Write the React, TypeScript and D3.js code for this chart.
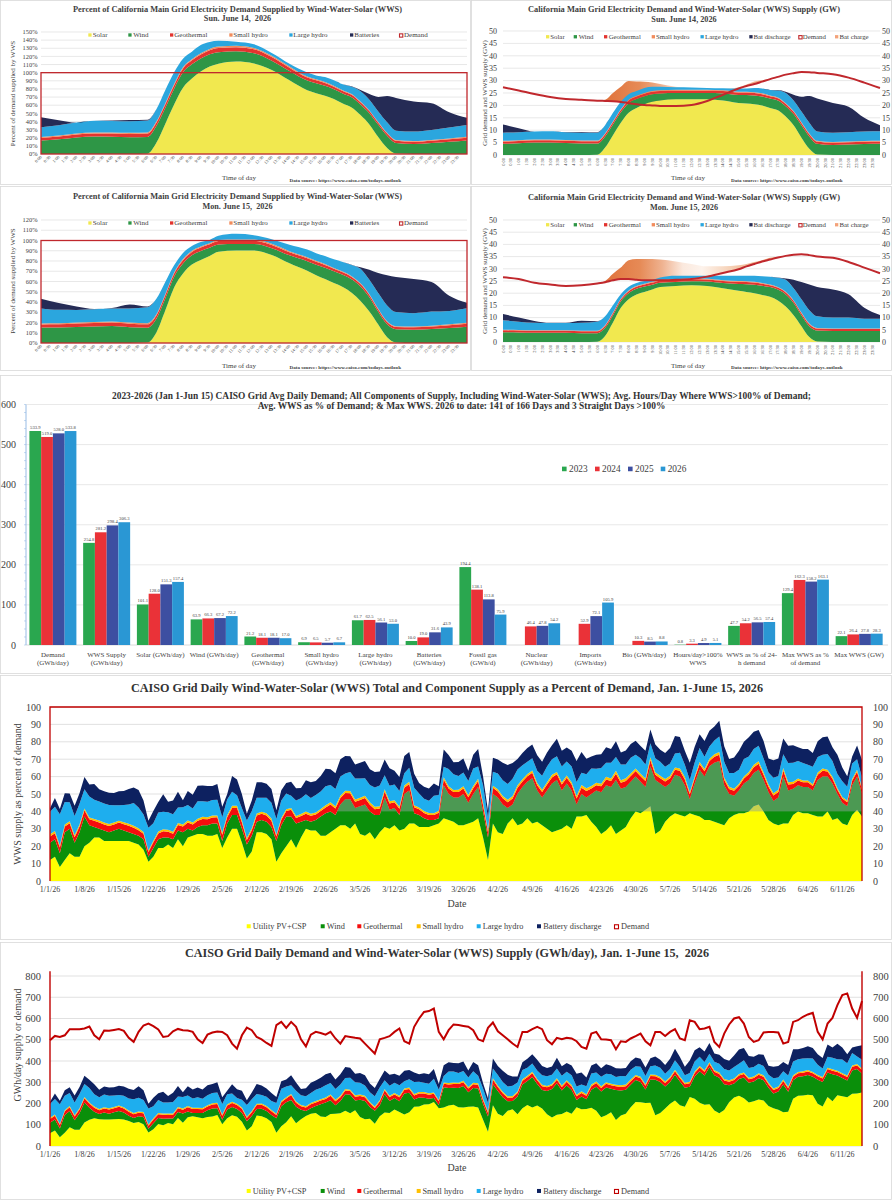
import React from 'react';
import * as d3 from 'd3';

const SERIF = '"Liberation Serif", "Times New Roman", Times, serif';
const INK = '#404040';
const GRID = '#d9d9d9';

// ---- CAISO today's outlook, read at these clock hours (GW) ----
const hours = [0, 1, 2, 3, 4, 5, 6, 6.5, 7, 7.5, 8, 8.5, 9, 9.5, 10, 11, 12, 13, 14, 15, 15.5, 16, 16.5, 17, 17.5, 18, 18.5, 19, 19.5, 20, 21, 22, 23, 24];

const jun14Demand = [27.3, 26.0, 24.6, 23.4, 22.6, 22.3, 21.9, 21.8, 21.7, 21.4, 20.9, 20.5, 20.2, 20.0, 19.8, 19.8, 20.2, 21.8, 24.3, 26.8, 27.8, 28.6, 29.6, 30.6, 31.5, 32.4, 33.0, 33.5, 33.4, 33.1, 32.6, 31.2, 29.2, 27.0];
const jun14Solar = [0, 0, 0, 0, 0, 0, 0.1, 3, 8, 13, 17, 19, 20.5, 21.5, 22, 22.5, 22.5, 22.5, 22, 21, 20.8, 20.5, 20, 19, 18, 15.5, 12, 7, 2.5, 0.2, 0, 0, 0, 0];
const jun14Wind = [4.5, 4.7, 5, 5, 4.8, 4.6, 4.5, 4.5, 4.3, 4.2, 4, 3.6, 3.2, 3, 2.8, 2.5, 2.5, 2.5, 2.8, 3.2, 3.4, 3.5, 3.6, 3.8, 4, 4.2, 4.5, 5, 5, 4.3, 4, 4.2, 4.4, 4.5];
const jun14Geo = [0.9, 0.9, 0.9, 0.9, 0.9, 0.9, 0.9, 0.9, 0.9, 0.9, 1.0, 1.0, 1.0, 1.0, 1.0, 1.0, 1.0, 1.0, 1.0, 1.0, 1.0, 1.0, 0.9, 0.9, 0.9, 0.9, 0.9, 0.9, 0.9, 0.9, 0.9, 0.9, 0.9, 0.9];
const jun14SmallHydro = [0.3, 0.3, 0.3, 0.3, 0.3, 0.3, 0.3, 0.3, 0.3, 0.3, 0.3, 0.3, 0.35, 0.35, 0.35, 0.35, 0.35, 0.35, 0.35, 0.35, 0.35, 0.35, 0.35, 0.3, 0.3, 0.3, 0.3, 0.3, 0.3, 0.3, 0.3, 0.3, 0.3, 0.3];
const jun14LargeHydro = [3.3, 3.3, 3.3, 3.4, 3.2, 3.2, 3.2, 3.3, 3.5, 3.1, 2.2, 1.9, 2.0, 1.7, 1.4, 1.0, 0.9, 0.7, 0.8, 1.3, 1.3, 1.7, 2.0, 2.2, 2.8, 4.1, 4.3, 4.3, 4.3, 3.8, 3.8, 3.8, 3.9, 3.9];
const jun14Battery = [3.3, 1.6, 0, 0, 0.1, 0.3, 0.2, 0, 0, 0, 0, 0, 0, 0, 0, 0, 0, 0, 0, 0, 0, 0, 0, 0, 0.2, 0.5, 2.3, 6, 10.8, 13.3, 12, 10.3, 5.5, 2.4];
const jun14Charge = [0, 0, 0, 0, 0, 0, 0, 0.5, 3.3, 6.1, 8.9, 9.1, 9.3, 9.2, 8.8, 7.7, 6.6, 4.7, 2.3, 0.5, 0.6, 1.0, 0.5, 0, 0, 0, 0, 0, 0, 0, 0, 0, 0, 0];

const jun15Demand = [26.5, 25.8, 24.3, 23.6, 23.0, 23.3, 24.0, 24.5, 25.3, 25.8, 25.8, 25.5, 25.3, 25.3, 25.3, 25.5, 25.8, 26.8, 28.3, 29.8, 31.0, 32.0, 33.0, 33.8, 34.6, 35.3, 35.8, 36.0, 35.6, 35.0, 34.5, 32.8, 30.5, 28.2];
const jun15Solar = [0, 0, 0, 0, 0, 0, 0.1, 2.5, 8, 14, 17.5, 19.5, 20.5, 21.5, 22.5, 23, 23.3, 23, 22, 21, 20.5, 20, 19.3, 18.5, 17, 14.5, 11, 6.5, 2, 0.2, 0, 0, 0, 0];
const jun15Wind = [4, 3.9, 3.8, 3.8, 3.8, 3.6, 3.5, 3.3, 3, 2.7, 2.5, 2.3, 2.2, 2.0, 1.8, 1.6, 1.6, 1.8, 2.2, 2.8, 3.2, 3.5, 3.8, 4, 4.5, 5, 5, 4.5, 4.5, 4.5, 4.5, 4.5, 4.5, 4.5];
const jun15Geo = [0.8, 0.8, 0.8, 0.8, 0.8, 0.8, 0.8, 0.8, 0.8, 0.8, 0.85, 0.85, 0.85, 0.85, 0.85, 0.85, 0.85, 0.85, 0.85, 0.85, 0.85, 0.85, 0.8, 0.8, 0.8, 0.8, 0.8, 0.8, 0.8, 0.8, 0.8, 0.8, 0.8, 0.8];
const jun15SmallHydro = [0.25, 0.25, 0.25, 0.25, 0.25, 0.25, 0.25, 0.25, 0.25, 0.25, 0.3, 0.3, 0.3, 0.3, 0.3, 0.3, 0.3, 0.3, 0.3, 0.3, 0.3, 0.3, 0.25, 0.25, 0.25, 0.25, 0.25, 0.25, 0.25, 0.25, 0.25, 0.25, 0.25, 0.25];
const jun15LargeHydro = [3.9, 3.4, 3.0, 2.9, 2.9, 3.2, 3.7, 3.7, 3.0, 1.8, 1.5, 1.2, 1.1, 0.8, 1.0, 1.4, 1.1, 1.2, 1.8, 2.2, 2.3, 2.5, 2.8, 3.2, 3.8, 5.0, 5.0, 5.5, 5.5, 4.8, 4.5, 4.5, 4.0, 4.0];
const jun15Battery = [2.5, 1.7, 0.8, 0.1, 0.1, 0.9, 0.2, 0, 0, 0, 0, 0, 0, 0, 0, 0, 0, 0, 0, 0, 0, 0, 0, 0, 0.1, 0.5, 3.5, 7, 10.5, 12, 11.5, 9.5, 4.5, 1.5];
const jun15Charge = [0, 0, 0, 0, 0, 0, 0, 0.5, 2.7, 4.7, 7.7, 8.5, 8.7, 8.7, 8.5, 7.5, 6.2, 4.2, 2.7, 1.7, 1.0, 0.8, 0.5, 0.7, 0.2, 0, 0, 0, 0, 0, 0, 0, 0, 0];

// ---- 2023-2026 averages (Jan 1 - Jun 15) ----
const barYears = ['2023', '2024', '2025', '2026'];
const barCategories = [
  ['Demand', '(GWh/day)'], ['WWS Supply', '(GWh/day)'], ['Solar (GWh/day)'], ['Wind (GWh/day)'],
  ['Geothermal', '(GWh/day)'], ['Small hydro', '(GWh/day)'], ['Large hydro', '(GWh/day)'], ['Batteries', '(GWh/day)'],
  ['Fossil gas', '(GWh/d)'], ['Nuclear', '(GWh/day)'], ['Imports', '(GWh/day)'], ['Bio (GWh/day)'],
  ['Hours/day>100%', 'WWS'], ['WWS as % of 24-', 'h demand'], ['Max WWS as %', 'of demand'], ['Max WWS (GW)'],
];
const bars2023 = [533.9, 254.8, 101.1, 63.9, 21.2, 6.9, 61.7, 10.0, 194.4, null, null, null, 0.8, 47.7, 129.4, 22.1];
const bars2024 = [519.0, 281.2, 128.0, 66.3, 18.1, 6.5, 62.5, 19.0, 138.1, 46.4, 52.9, 10.3, 3.3, 54.2, 162.3, 26.4];
const bars2025 = [528.0, 298.4, 151.3, 67.2, 18.1, 5.7, 56.1, 31.6, 113.8, 47.8, 72.1, 8.5, 4.9, 56.5, 158.2, 27.8];
const bars2026 = [533.8, 306.3, 157.4, 72.2, 17.0, 6.7, 53.0, 43.9, 75.9, 54.2, 105.9, 8.8, 5.1, 57.4, 163.1, 28.3];
const barColors = ['#2aa74f', '#ea3238', '#3d4fa1', '#2a97d4'];

// ---- daily, Jan 1 (day 0) - Jun 15 (day 165), 2026 ----
const dailyDemand = [
  498, 518, 513, 521, 550, 550, 550, 553, 562, 521,
  502, 543, 542, 546, 550, 542, 509, 490, 537, 567,
  576, 564, 548, 513, 517, 540, 551, 545, 543, 537,
  502, 485, 524, 534, 539, 537, 521, 482, 458, 521,
  557, 545, 513, 502, 485, 471, 569, 584, 556, 584,
  561, 502, 469, 524, 537, 532, 524, 537, 506, 482,
  517, 513, 509, 506, 482, 458, 435, 502, 509, 517,
  537, 553, 493, 482, 561, 600, 631, 635, 647, 537,
  502, 545, 572, 569, 565, 561, 545, 502, 493, 556,
  581, 540, 521, 502, 482, 466, 537, 537, 550, 561,
  550, 498, 479, 509, 502, 509, 506, 493, 466, 458,
  529, 537, 502, 501, 498, 455, 493, 490, 506, 517,
  529, 493, 474, 537, 537, 518, 537, 550, 506, 498,
  592, 584, 550, 553, 561, 490, 466, 529, 572, 600,
  606, 576, 513, 490, 498, 534, 537, 537, 534, 482,
  490, 584, 592, 608, 619, 627, 537, 502, 576, 603,
  663, 710, 718, 647, 603, 682,
];
// components as percent of that day's demand
const solarPct = [
  12, 14, 8, 12, 16, 14, 14, 20, 22, 25,
  25, 23, 23, 23, 23, 23, 23, 22, 21, 18,
  11, 14, 19, 19, 21, 19, 24, 20, 25, 26,
  27, 27, 26, 26, 27, 19, 25, 30, 30, 22,
  13, 17, 28, 28, 27, 24, 11, 16, 20, 24,
  19, 25, 30, 29, 29, 26, 26, 28, 30, 32,
  32, 30, 33, 27, 26, 28, 24, 28, 31, 30,
  32, 29, 30, 33, 33, 31, 31, 31, 32, 33,
  36, 35, 34, 32, 32, 33, 34, 36, 25, 12,
  33, 28, 27, 33, 36, 32, 33, 36, 33, 34,
  32, 30, 28, 29, 30, 32, 30, 37, 37, 38,
  34, 31, 27, 29, 32, 27, 29, 31, 36, 40,
  39, 41, 43, 27, 29, 34, 37, 39, 38, 37,
  39, 38, 37, 35, 35, 34, 33, 32, 36, 38,
  39, 39, 40, 43, 44, 40, 35, 33, 32, 33,
  33, 38, 40, 39, 39, 38, 37, 37, 40, 35,
  36, 33, 32, 38, 41, 37,
];
const windPct = [
  10, 10, 8, 16, 14, 8, 14, 17, 10, 6,
  5, 6, 5, 6, 7, 6, 5, 5, 5, 6,
  3, 5, 5, 6, 4, 5, 5, 8, 5, 3,
  4, 5, 6, 7, 6, 4, 8, 8, 8, 8,
  8, 9, 6, 7, 7, 7, 12, 16, 17, 13,
  14, 9, 5, 5, 6, 11, 13, 12, 8, 12,
  15, 17, 9, 16, 18, 12, 14, 10, 17, 11,
  10, 9, 20, 19, 6, 7, 5, 4, 3, 3,
  19, 15, 14, 16, 18, 12, 16, 18, 15, 13,
  17, 20, 17, 9, 8, 18, 21, 21, 26, 18,
  16, 22, 28, 29, 22, 24, 22, 7, 13, 10,
  16, 21, 24, 26, 22, 31, 24, 23, 21, 20,
  18, 13, 23, 31, 27, 20, 19, 22, 22, 18,
  8, 18, 27, 25, 31, 34, 36, 23, 14, 11,
  13, 17, 18, 19, 20, 18, 16, 13, 16, 27,
  19, 15, 15, 15, 15, 14, 21, 23, 20, 21,
  14, 12, 11, 17, 19, 13,
];
const geoPct = [
  3.6, 3.5, 3.2, 3.3, 3.2, 3.2, 3.3, 3.6, 3.5, 3.6,
  3.6, 3.5, 3.6, 3.5, 3.6, 3.6, 3.7, 3.6, 3.2, 3.2,
  2.6, 3.2, 3.3, 3.6, 3.3, 3.2, 3.2, 3.3, 3.6, 3.5,
  3.6, 3.7, 3.5, 3.5, 3.6, 3.6, 3.6, 4.0, 4.0, 3.6,
  2.6, 3.2, 3.6, 3.6, 3.7, 3.6, 2.6, 3.2, 3.2, 4.0,
  3.2, 3.3, 3.6, 3.5, 3.2, 3.2, 3.3, 4.0, 3.6, 3.7,
  3.6, 3.5, 3.6, 3.6, 3.7, 3.8, 3.2, 3.6, 3.5, 3.5,
  3.2, 3.5, 3.6, 3.7, 3.4, 3.2, 3.1, 3.0, 3.0, 3.2,
  3.3, 3.2, 3.1, 3.2, 3.2, 3.2, 3.3, 3.4, 3.6, 3.2,
  3.6, 3.5, 3.6, 3.3, 3.4, 3.6, 3.2, 3.2, 3.2, 3.1,
  3.2, 3.4, 3.5, 3.3, 3.4, 3.3, 3.4, 3.4, 3.6, 3.7,
  3.2, 3.1, 3.4, 3.4, 3.4, 3.7, 3.4, 3.5, 3.3, 3.2,
  3.2, 3.4, 3.5, 3.1, 3.1, 3.2, 3.1, 3.0, 3.3, 3.4,
  2.8, 2.9, 3.1, 3.1, 3.0, 3.4, 3.6, 3.2, 2.9, 2.8,
  2.8, 2.9, 3.3, 3.4, 3.4, 3.1, 3.1, 3.1, 3.1, 3.5,
  3.4, 2.8, 2.8, 2.7, 2.7, 2.6, 3.1, 3.3, 2.9, 2.8,
  2.5, 2.4, 2.3, 2.6, 2.8, 2.5,
];
const smallHydroPct = [
  1.2, 1.2, 1.2, 1.1, 1.1, 1.1, 1.1, 1.1, 1.0, 1.1,
  1.1, 1.1, 1.1, 1.1, 1.0, 1.1, 1.2, 1.2, 1.1, 1.0,
  1.0, 1.0, 1.1, 1.2, 1.2, 1.1, 1.1, 1.1, 1.1, 1.1,
  1.2, 1.2, 1.1, 1.1, 1.1, 1.1, 1.2, 1.3, 1.3, 1.2,
  1.1, 1.1, 1.2, 1.2, 1.2, 1.3, 1.0, 1.0, 1.1, 1.0,
  1.1, 1.2, 1.3, 1.2, 1.2, 1.2, 1.2, 1.2, 1.3, 1.3,
  1.2, 1.2, 1.3, 1.3, 1.3, 1.4, 1.5, 1.3, 1.3, 1.3,
  1.2, 1.2, 1.3, 1.4, 1.2, 1.1, 1.1, 1.1, 1.0, 1.2,
  1.3, 1.2, 1.2, 1.2, 1.2, 1.2, 1.3, 1.4, 1.4, 1.2,
  1.2, 1.3, 1.3, 1.4, 1.4, 1.5, 1.3, 1.3, 1.3, 1.2,
  1.3, 1.4, 1.5, 1.4, 1.4, 1.4, 1.4, 1.5, 1.6, 1.6,
  1.4, 1.4, 1.5, 1.5, 1.5, 1.6, 1.5, 1.5, 1.5, 1.4,
  1.4, 1.5, 1.6, 1.4, 1.4, 1.4, 1.4, 1.3, 1.4, 1.4,
  1.2, 1.2, 1.3, 1.3, 1.3, 1.4, 1.5, 1.3, 1.2, 1.2,
  1.1, 1.2, 1.3, 1.4, 1.4, 1.3, 1.3, 1.3, 1.3, 1.4,
  1.4, 1.2, 1.1, 1.1, 1.1, 1.0, 1.2, 1.3, 1.1, 1.1,
  1.0, 0.9, 0.9, 1.0, 1.1, 1.0,
];
const largeHydroPct = [
  13, 14, 18, 13, 11, 11, 12, 11, 12, 11,
  11, 11, 11, 10, 9, 10, 11, 13, 12, 10,
  13, 10, 11, 10, 10, 10, 9, 10, 9, 8,
  10, 9, 9, 9, 9, 9, 9, 8, 6, 7,
  10, 10, 9, 8, 9, 9, 9, 10, 9, 7,
  9, 9, 10, 9, 10, 10, 11, 10, 10, 11,
  10, 11, 12, 11, 10, 10, 11, 12, 8, 9,
  9, 9, 7, 8, 10, 8, 7, 7, 10, 9,
  6, 10, 9, 8, 8, 8, 10, 7, 10, 7,
  8, 9, 9, 9, 10, 9, 8, 7, 7, 7,
  8, 9, 9, 9, 9, 8, 9, 8, 7, 8,
  10, 8, 9, 8, 9, 8, 9, 8, 9, 8,
  9, 8, 8, 8, 8, 7, 7, 8, 9, 7,
  7, 8, 8, 7, 7, 8, 9, 9, 8, 9,
  8, 10, 9, 9, 9, 8, 7, 9, 8, 8,
  11, 11, 10, 10, 9, 10, 9, 8, 9, 9,
  8, 9, 8, 9, 6, 6,
];
const batteryPct = [
  2, 5, 3, 5, 5, 6, 6, 7, 7, 9,
  7, 7, 7, 7, 8, 8, 9, 9, 10, 8,
  4, 7, 6, 10, 6, 8, 9, 4, 8, 8,
  9, 9, 9, 8, 9, 6, 3, 9, 9, 8,
  4, 6, 9, 9, 8, 8, 5, 6, 6, 8,
  7, 6, 8, 9, 8, 9, 10, 9, 9, 10,
  10, 9, 8, 9, 10, 9, 9, 8, 9, 10,
  8, 8, 10, 9, 8, 6, 7, 7, 7, 5,
  10, 8, 7, 8, 8, 6, 8, 10, 5, 4,
  8, 8, 10, 11, 9, 6, 7, 8, 8, 9,
  8, 8, 8, 10, 9, 8, 9, 12, 12, 9,
  7, 8, 8, 9, 8, 9, 7, 8, 8, 8,
  7, 8, 8, 8, 7, 8, 9, 10, 9, 8,
  10, 9, 8, 9, 9, 8, 9, 9, 8, 9,
  11, 10, 11, 10, 9, 10, 8, 10, 10, 9,
  10, 10, 8, 8, 9, 8, 9, 10, 10, 8,
  11, 8, 6, 4, 8, 10,
];
const dateTicks = ['1/1/26', '1/8/26', '1/15/26', '1/22/26', '1/29/26', '2/5/26', '2/12/26', '2/19/26', '2/26/26', '3/5/26', '3/12/26', '3/19/26', '3/26/26', '4/2/26', '4/9/26', '4/16/26', '4/23/26', '4/30/26', '5/7/26', '5/14/26', '5/21/26', '5/28/26', '6/4/26', '6/11/26'];

const supplyKeys = ['solar', 'wind', 'geo', 'smallHydro', 'largeHydro', 'battery'];
const dayColors: any = { solar: '#f1e84f', wind: '#2e9646', geo: '#e3342f', smallHydro: '#f28c5c', largeHydro: '#2ba6de', battery: '#252b55' };
const seasonColors: any = { solar: '#ffff00', wind: '#0a8f0a', geo: '#f50d0d', smallHydro: '#ffc000', largeHydro: '#1eaeee', battery: '#0d2160' };
const DEMAND_RED = '#c0282d';

const timeLabels = d3.range(48).map(i => `${Math.floor(i / 2)}:${i % 2 ? '30' : '00'}`);

function dayRows(demand, solar, wind, geo, smallHydro, largeHydro, battery, charge) {
  return hours.map((h, i) => ({
    h, demand: demand[i], solar: solar[i], wind: wind[i], geo: geo[i],
    smallHydro: smallHydro[i], largeHydro: largeHydro[i], battery: battery[i], charge: charge[i],
  }));
}

function Legend({ items, y, size, font }: any) {
  return (
    <g fontSize={font} fill={INK}>
      {items.map((it: any) => {
        const top = y - font * 0.33 - size / 2;
        return (
          <g key={it.label}>
            {it.hollow
              ? <rect x={it.mx + 0.5} y={top + 0.5} width={size} height={size} fill="#fff" stroke={it.color} strokeWidth={1.1} />
              : <rect x={it.mx} y={top} width={size} height={size} fill={it.color} />}
            <text x={it.tx} y={y}>{it.label}</text>
          </g>
        );
      })}
    </g>
  );
}

function DayPctPanel({ oy, rows, yMax, yBase, yTop, dayTitle, t1, t2, legendY, tickY, footY, yTitleY }: any) {
  const x = d3.scaleLinear().domain([0, 24]).range([41, 467]);
  const y = d3.scaleLinear().domain([0, yMax]).range([yBase, yTop]);
  const pct = rows.map((r: any) => {
    const o: any = { h: r.h };
    supplyKeys.forEach(k => { o[k] = (r[k] / r.demand) * 100; });
    return o;
  });
  const series = d3.stack<any>().keys(supplyKeys)(pct);
  const area = d3.area<any>().x(d => x(d.data.h)).y0(d => y(d[0])).y1(d => y(d[1])).curve(d3.curveMonotoneX);
  const legend = [
    { label: 'Solar', color: dayColors.solar, mx: 88.3, tx: 92.7 },
    { label: 'Wind', color: dayColors.wind, mx: 128.3, tx: 133.3 },
    { label: 'Geothermal', color: dayColors.geo, mx: 170, tx: 174.3 },
    { label: 'Small hydro', color: dayColors.smallHydro, mx: 229.3, tx: 233.3 },
    { label: 'Large hydro', color: dayColors.largeHydro, mx: 289.3, tx: 293.3 },
    { label: 'Batteries', color: dayColors.battery, mx: 350, tx: 354.3 },
    { label: 'Demand', color: DEMAND_RED, mx: 399, tx: 404, hollow: true },
  ];
  return (
    <g transform={`translate(0,${oy})`}>
      {d3.range(0, yMax + 1, 10).map(v => (
        <g key={v}>
          <line x1={41} x2={467} y1={y(v)} y2={y(v)} stroke={GRID} strokeWidth={0.6} />
          <text x={37.5} y={y(v) + 2.2} fontSize={6.4} textAnchor="end" fill={INK}>{`${v}%`}</text>
        </g>
      ))}
      {series.map(s => <path key={s.key} d={area(s) || ''} fill={dayColors[s.key]} />)}
      <rect x={x(0)} y={y(100)} width={x(24) - x(0)} height={y(0) - y(100)} fill="none" stroke={DEMAND_RED} strokeWidth={1.3} />
      {timeLabels.map((t, i) => (
        <text key={t} transform={`translate(${x(i / 2) + 1},${tickY}) rotate(-45)`} fontSize={4.4} textAnchor="end" fill={INK}>{t}</text>
      ))}
      <Legend items={legend} y={legendY} size={3.3} font={7} />
      <text x={237.5} y={t1} fontSize={8.2} fontWeight="bold" textAnchor="middle" fill={INK} textLength={329} lengthAdjust="spacingAndGlyphs">Percent of California Main Grid Electricity Demand Supplied by Wind-Water-Solar (WWS)</text>
      <text x={237.5} y={t2} fontSize={8.2} fontWeight="bold" textAnchor="middle" fill={INK} style={{ whiteSpace: 'pre' }}>{dayTitle}</text>
      <text transform={`translate(14.5,${yTitleY}) rotate(-90)`} fontSize={7} textAnchor="middle" fill={INK}>Percent of demand supplied by WWS</text>
      <text x={239} y={footY} fontSize={7} textAnchor="middle" fill={INK}>Time of day</text>
      <text x={289.5} y={footY + 1.7} fontSize={5} fontWeight="bold" fill={INK} textLength={111.5} lengthAdjust="spacingAndGlyphs">Data source: https://www.caiso.com/todays-outlook</text>
    </g>
  );
}

function DayGwPanel({ oy, rows, yBase, yTop, dayTitle, t1, t2, legendY, tickY, footY, yTitleY, gid }: any) {
  const x = d3.scaleLinear().domain([0, 24]).range([503, 880]);
  const y = d3.scaleLinear().domain([0, 50]).range([yBase, yTop]);
  const series = d3.stack<any>().keys(supplyKeys)(rows);
  const area = d3.area<any>().x(d => x(d.data.h)).y0(d => y(d[0])).y1(d => y(d[1])).curve(d3.curveMonotoneX);
  const chargeArea = d3.area<any>().x(d => x(d.h)).y0(d => y(d.demand)).y1(d => y(d.demand + d.charge)).curve(d3.curveMonotoneX);
  const demandLine = d3.line<any>().x(d => x(d.h)).y(d => y(d.demand)).curve(d3.curveMonotoneX);
  const legend = [
    { label: 'Solar', color: dayColors.solar, mx: 546, tx: 550.3 },
    { label: 'Wind', color: dayColors.wind, mx: 573.7, tx: 578.7 },
    { label: 'Geothermal', color: dayColors.geo, mx: 604, tx: 608.7 },
    { label: 'Small hydro', color: dayColors.smallHydro, mx: 651.7, tx: 656 },
    { label: 'Large hydro', color: dayColors.largeHydro, mx: 700.5, tx: 705 },
    { label: 'Bat discharge', color: dayColors.battery, mx: 749.3, tx: 753.5 },
    { label: 'Demand', color: DEMAND_RED, mx: 798.3, tx: 802.8, hollow: true },
    { label: 'Bat charge', color: '#f3a27a', mx: 835, tx: 839.5 },
  ];
  return (
    <g transform={`translate(0,${oy})`}>
      <defs>
        <linearGradient id={gid} gradientUnits="userSpaceOnUse" x1={x(6.5)} x2={x(17.5)} y1={0} y2={0}>
          <stop offset="0" stopColor="#e0733c" />
          <stop offset="0.2" stopColor="#e68a56" />
          <stop offset="0.33" stopColor="#efb290" />
          <stop offset="0.45" stopColor="#fbe9de" />
          <stop offset="0.56" stopColor="#fdf3ec" />
          <stop offset="0.72" stopColor="#f6d2b8" />
          <stop offset="0.88" stopColor="#efac84" />
          <stop offset="1" stopColor="#ea9a6c" />
        </linearGradient>
      </defs>
      <rect x={471.5} y={0.5} width={420} height={184} fill="#fff" stroke={GRID} strokeWidth={0.8} />
      {d3.range(0, 51, 5).map(v => (
        <g key={v}>
          <line x1={503} x2={880} y1={y(v)} y2={y(v)} stroke={GRID} strokeWidth={0.6} />
          <text x={497} y={y(v) + 2.8} fontSize={8} textAnchor="end" fill={INK}>{v}</text>
          <text x={882} y={y(v) + 2.8} fontSize={8} fill={INK}>{v}</text>
        </g>
      ))}
      <path d={chargeArea(rows) || ''} fill={`url(#${gid})`} />
      {series.map(s => <path key={s.key} d={area(s) || ''} fill={dayColors[s.key]} />)}
      <path d={demandLine(rows) || ''} fill="none" stroke={DEMAND_RED} strokeWidth={2} />
      {timeLabels.map((t, i) => (
        <text key={t} transform={`translate(${x(i / 2) + 1.5},${tickY}) rotate(-90)`} fontSize={4.4} textAnchor="end" fill={INK}>{t}</text>
      ))}
      <Legend items={legend} y={legendY} size={3.3} font={6.8} />
      <text x={684} y={t1} fontSize={8.2} fontWeight="bold" textAnchor="middle" fill={INK} textLength={312} lengthAdjust="spacingAndGlyphs">California Main Grid Electricity Demand and Wind-Water-Solar (WWS) Supply (GW)</text>
      <text x={684} y={t2} fontSize={8.2} fontWeight="bold" textAnchor="middle" fill={INK}>{dayTitle}</text>
      <text transform={`translate(487,${yTitleY}) rotate(-90)`} fontSize={7} textAnchor="middle" fill={INK}>Grid demand and WWS supply (GW)</text>
      <text x={688} y={footY} fontSize={7} textAnchor="middle" fill={INK}>Time of day</text>
      <text x={731} y={footY + 1.7} fontSize={5} fontWeight="bold" fill={INK} textLength={111.7} lengthAdjust="spacingAndGlyphs">Data source: https://www.caiso.com/todays-outlook</text>
    </g>
  );
}

function BarPanel() {
  const x0 = d3.scaleBand<number>().domain(d3.range(barCategories.length)).range([26, 886]);
  const x1 = d3.scaleBand<string>().domain(barYears).range([3.4, 50.4]);
  const y = d3.scaleLinear().domain([0, 600]).range([645, 404.5]);
  const yearValues = [bars2023, bars2024, bars2025, bars2026];
  const legendItems = barYears.map((yr, i) => ({ label: yr, color: barColors[i], mx: [562, 595, 628, 660.7][i], tx: [569, 602, 635, 667.7][i] }));
  return (
    <g>
      <rect x={0.5} y={375.5} width={891} height={298} fill="#fff" stroke={GRID} strokeWidth={0.8} />
      {d3.range(0, 601, 100).map(v => (
        <g key={v}>
          {v > 0 && <line x1={26} x2={888} y1={y(v)} y2={y(v)} stroke="#e3e3e3" strokeWidth={0.8} />}
          <text x={16} y={y(v) + 3.5} fontSize={10} textAnchor="end" fill={INK}>{v}</text>
        </g>
      ))}
      <line x1={26} x2={888} y1={y(0)} y2={y(0)} stroke="#d0d0d0" strokeWidth={0.8} />
      <line x1={26} x2={26} y1={y(0)} y2={y(600)} stroke="#8db4e2" strokeWidth={0.9} />
      {d3.range(0, 601, 20).map(v => <line key={v} x1={24} x2={26} y1={y(v)} y2={y(v)} stroke="#8db4e2" strokeWidth={0.5} />)}
      {yearValues.map((vals, yi) => (
        <g key={barYears[yi]}>
          {vals.map((v, ci) => v == null ? null : (
            <g key={ci}>
              <rect x={(x0(ci) as number) + (x1(barYears[yi]) as number)} y={y(v)} width={x1.bandwidth()} height={y(0) - y(v)} fill={barColors[yi]} />
              <text x={(x0(ci) as number) + (x1(barYears[yi]) as number) + x1.bandwidth() / 2} y={y(v) - 2} fontSize={4.6} textAnchor="middle" fill={INK}>{v.toFixed(1)}</text>
            </g>
          ))}
        </g>
      ))}
      {barCategories.map((lines, ci) => (
        <text key={ci} fontSize={7} textAnchor="middle" fill={INK}>
          {lines.map((ln, li) => <tspan key={li} x={(x0(ci) as number) + x0.bandwidth() / 2} y={657 + li * 7.7}>{ln}</tspan>)}
        </text>
      ))}
      <Legend items={legendItems} y={472} size={4.6} font={9.3} />
      <text x={461.5} y={398.7} fontSize={9.4} fontWeight="bold" textAnchor="middle" fill="#333" textLength={699} lengthAdjust="spacingAndGlyphs">2023-2026 (Jan 1-Jun 15) CAISO Grid Avg Daily Demand; All Components of Supply, Including Wind-Water-Solar (WWS); Avg. Hours/Day Where WWS&gt;100% of Demand;</text>
      <text x={461.5} y={408.7} fontSize={9.4} fontWeight="bold" textAnchor="middle" fill="#333" textLength={407.6} lengthAdjust="spacingAndGlyphs">Avg. WWS as % of Demand; &amp; Max WWS. 2026 to date: 141 of 166 Days and 3 Straight Days &gt;100%</text>
    </g>
  );
}

const seasonLegend = [
  { label: 'Utility PV+CSP', color: seasonColors.solar, mx: 246.7, tx: 252.7 },
  { label: 'Wind', color: seasonColors.wind, mx: 320.7, tx: 326.7 },
  { label: 'Geothermal', color: seasonColors.geo, mx: 357.3, tx: 363.3 },
  { label: 'Small hydro', color: seasonColors.smallHydro, mx: 416.7, tx: 422.5 },
  { label: 'Large hydro', color: seasonColors.largeHydro, mx: 476.7, tx: 482.7 },
  { label: 'Battery discharge', color: seasonColors.battery, mx: 537, tx: 543.3 },
  { label: 'Demand', color: '#c00000', mx: 614, tx: 621, hollow: true },
];

function pctRowsDaily() {
  return dailyDemand.map((dem, i) => ({
    i, demand: dem, solar: solarPct[i], wind: windPct[i], geo: geoPct[i],
    smallHydro: smallHydroPct[i], largeHydro: largeHydroPct[i], battery: batteryPct[i],
  }));
}

function DailyPctPanel() {
  const x = d3.scaleLinear().domain([0, 165]).range([50, 862]);
  const y = d3.scaleLinear().domain([0, 100]).range([881, 707]);
  const rows = pctRowsDaily();
  const series = d3.stack<any>().keys(supplyKeys)(rows);
  const area = d3.area<any>().x(d => x(d.data.i)).y0(d => y(d[0])).y1(d => y(d[1]));
  const swArea = d3.area<any>().x(d => x(d.i)).y0(y(0)).y1(d => y(d.solar + d.wind));
  const lower = series.slice(0, 2);
  const upper = series.slice(2);
  return (
    <g>
      <rect x={0.5} y={675.5} width={891} height={264} fill="#fff" stroke={GRID} strokeWidth={0.8} />
      <defs><clipPath id="swClip"><path d={swArea(rows) || ''} /></clipPath></defs>
      {d3.range(0, 101, 10).map(v => (
        <g key={v}>
          <line x1={50} x2={862} y1={y(v)} y2={y(v)} stroke={GRID} strokeWidth={0.8} />
          <text x={41} y={y(v) + 3.5} fontSize={10} textAnchor="end" fill={INK}>{v}</text>
          <text x={873} y={y(v) + 3.5} fontSize={10} fill={INK}>{v}</text>
        </g>
      ))}
      {lower.map(s => <path key={s.key} d={area(s) || ''} fill={seasonColors[s.key]} />)}
      <rect x={50} y={y(100)} width={812} height={y(40) - y(100)} fill="#8da49b" fillOpacity={0.5} clipPath="url(#swClip)" />
      {upper.map(s => <path key={s.key} d={area(s) || ''} fill={seasonColors[s.key]} />)}
      <path d={`M${x(0)},${y(0)}V${y(100)}H${x(165)}V${y(0)}`} fill="none" stroke="#c00000" strokeWidth={1.3} />
      {dateTicks.map((t, k) => (
        <text key={t} x={x(k * 7)} y={892} fontSize={8} textAnchor="middle" fill={INK}>{t}</text>
      ))}
      <text x={457} y={906.5} fontSize={10} textAnchor="middle" fill={INK}>Date</text>
      <text transform="translate(21,794) rotate(-90)" fontSize={10} textAnchor="middle" fill={INK}>WWS supply as percent of demand</text>
      <Legend items={seasonLegend} y={929} size={4} font={8.3} />
      <text x={447} y={692} fontSize={12.5} fontWeight="bold" textAnchor="middle" fill="#333" textLength={632} lengthAdjust="spacingAndGlyphs">CAISO Grid Daily Wind-Water-Solar (WWS) Total and Component Supply as a Percent of Demand, Jan. 1-June 15, 2026</text>
    </g>
  );
}

function DailyGwhPanel() {
  const x = d3.scaleLinear().domain([0, 165]).range([50, 862]);
  const y = d3.scaleLinear().domain([0, 800]).range([1146, 976]);
  const rows = pctRowsDaily().map(r => {
    const o: any = { i: r.i, demand: r.demand };
    supplyKeys.forEach(k => { o[k] = ((r as any)[k] * r.demand) / 100; });
    return o;
  });
  const series = d3.stack<any>().keys(supplyKeys)(rows);
  const area = d3.area<any>().x(d => x(d.data.i)).y0(d => y(d[0])).y1(d => y(d[1]));
  const demandLine = d3.line<any>().x(d => x(d.i)).y(d => y(d.demand));
  return (
    <g>
      <rect x={0.5} y={942.5} width={891} height={257} fill="#fff" stroke={GRID} strokeWidth={0.8} />
      {d3.range(0, 801, 100).map(v => (
        <g key={v}>
          <line x1={50} x2={862} y1={y(v)} y2={y(v)} stroke={GRID} strokeWidth={0.8} />
          <text x={41} y={y(v) + 3.5} fontSize={10.5} textAnchor="end" fill={INK}>{v}</text>
          <text x={873} y={y(v) + 3.5} fontSize={10.5} fill={INK}>{v}</text>
        </g>
      ))}
      {series.map(s => <path key={s.key} d={area(s) || ''} fill={seasonColors[s.key]} />)}
      <path d={demandLine(rows) || ''} fill="none" stroke="#c00000" strokeWidth={2} />
      <line x1={x(0)} x2={x(0)} y1={y(0)} y2={y(822)} stroke="#c00000" strokeWidth={1.4} />
      <line x1={x(165)} x2={x(165)} y1={y(0)} y2={y(822)} stroke="#c00000" strokeWidth={1.4} />
      {dateTicks.map((t, k) => (
        <text key={t} x={x(k * 7)} y={1156.7} fontSize={8} textAnchor="middle" fill={INK}>{t}</text>
      ))}
      <text x={457} y={1171} fontSize={10} textAnchor="middle" fill={INK}>Date</text>
      <text transform="translate(21,1045) rotate(-90)" fontSize={10} textAnchor="middle" fill={INK}>GWh/day supply or demand</text>
      <Legend items={seasonLegend} y={1193.7} size={4} font={8.3} />
      <text x={447} y={957} fontSize={12.5} fontWeight="bold" textAnchor="middle" fill="#333" textLength={524} lengthAdjust="spacingAndGlyphs" style={{ whiteSpace: 'pre' }}>CAISO Grid Daily Demand and Wind-Water-Solar (WWS) Supply (GWh/day), Jan. 1-June 15,  2026</text>
    </g>
  );
}

export default function App() {
  const d14 = dayRows(jun14Demand, jun14Solar, jun14Wind, jun14Geo, jun14SmallHydro, jun14LargeHydro, jun14Battery, jun14Charge);
  const d15 = dayRows(jun15Demand, jun15Solar, jun15Wind, jun15Geo, jun15SmallHydro, jun15LargeHydro, jun15Battery, jun15Charge);
  return (
    <svg width={892} height={1200} viewBox="0 0 892 1200" fontFamily={SERIF} style={{ position: 'absolute', left: 0, top: 0, display: 'block' }}>
      <rect width={892} height={1200} fill="#fff" />
      <rect x={0.5} y={0.5} width={470} height={184} fill="#fff" stroke={GRID} strokeWidth={0.8} />
      <rect x={0.5} y={186.5} width={470} height={184} fill="#fff" stroke={GRID} strokeWidth={0.8} />
      <DayPctPanel oy={0} rows={d14} yMax={150} yBase={154} yTop={32} dayTitle="Sun. June 14,  2026" t1={11.7} t2={21.3} legendY={37.3} tickY={157.5} footY={180} yTitleY={93.5} />
      <DayGwPanel oy={0} rows={d14} yBase={155} yTop={31} dayTitle="Sun. June 14, 2026" t1={12.3} t2={22} legendY={39} tickY={158} footY={180} yTitleY={93} gid="charge14" />
      <DayPctPanel oy={186} rows={d15} yMax={120} yBase={157} yTop={34} dayTitle="Mon. June 15,  2026" t1={13.3} t2={23.3} legendY={39.3} tickY={160.5} footY={181.7} yTitleY={95} />
      <DayGwPanel oy={186} rows={d15} yBase={156} yTop={34} dayTitle="Mon. June 15, 2026" t1={14} t2={24} legendY={41} tickY={159} footY={181.7} yTitleY={95} gid="charge15" />
      <BarPanel />
      <DailyPctPanel />
      <DailyGwhPanel />
    </svg>
  );
}
